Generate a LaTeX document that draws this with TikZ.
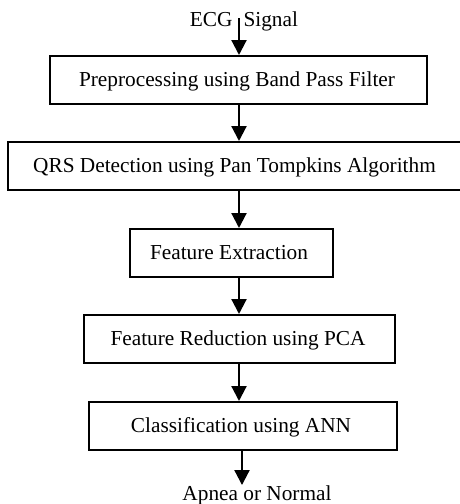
\documentclass[tikz,border=0pt]{standalone}
\usepackage{fontspec}
\setmainfont{Liberation Serif}
\usetikzlibrary{arrows.meta}
\begin{document}
\begin{tikzpicture}[x=1pt,y=-1pt,
  every node/.style={font=\fontsize{21.3}{25}\selectfont, inner sep=0pt},
  stagebox/.style={draw, line width=2pt, anchor=north west},
  label/.style={anchor=base},
  flow/.style={line width=2.2pt, -{Triangle[width=15pt,length=15pt]}}]
  \useasboundingbox (0,0) rectangle (459,504);
  % processing stages (boxes given by their corners)
  \node[stagebox, minimum width=377pt, minimum height=48pt] (b1) at (49,55) {};
  \node[label] (t1) at (237,86) {Preprocessing using Band Pass Filter};
  \node[stagebox, minimum width=458pt, minimum height=48pt] (b2) at (7,141) {};
  \node[label] (t2) at (234.5,172) {QRS Detection using Pan Tompkins Algorithm};
  \node[stagebox, minimum width=203pt, minimum height=48pt] (b3) at (129,228) {};
  \node[label] (t3) at (229,259) {Feature Extraction};
  \node[stagebox, minimum width=311pt, minimum height=48pt] (b4) at (83,314) {};
  \node[label] (t4) at (238,345) {Feature Reduction using PCA};
  \node[stagebox, minimum width=308pt, minimum height=48pt] (b5) at (88,401) {};
  \node[label] (t5) at (241,432) {Classification using ANN};
  % input and output labels
  \node[label] (inp) at (244,26) {ECG\hspace{11pt}Signal};
  \node[label] (outp) at (257,500) {Apnea or Normal};
  % connectors
  \coordinate (ax) at (239,0);
  \coordinate (bx) at (242,0);
  \coordinate (start) at (239,18);
  \draw[flow] (start) -- (b1.north -| ax);
  \draw[flow] (b1.south -| ax) -- (b2.north -| ax);
  \draw[flow] (b2.south -| ax) -- (b3.north -| ax);
  \draw[flow] (b3.south -| ax) -- (b4.north -| ax);
  \draw[flow] (b4.south -| ax) -- (b5.north -| ax);
  \draw[flow] (b5.south -| bx) -- (bx |- outp.north);
\end{tikzpicture}
\end{document}
